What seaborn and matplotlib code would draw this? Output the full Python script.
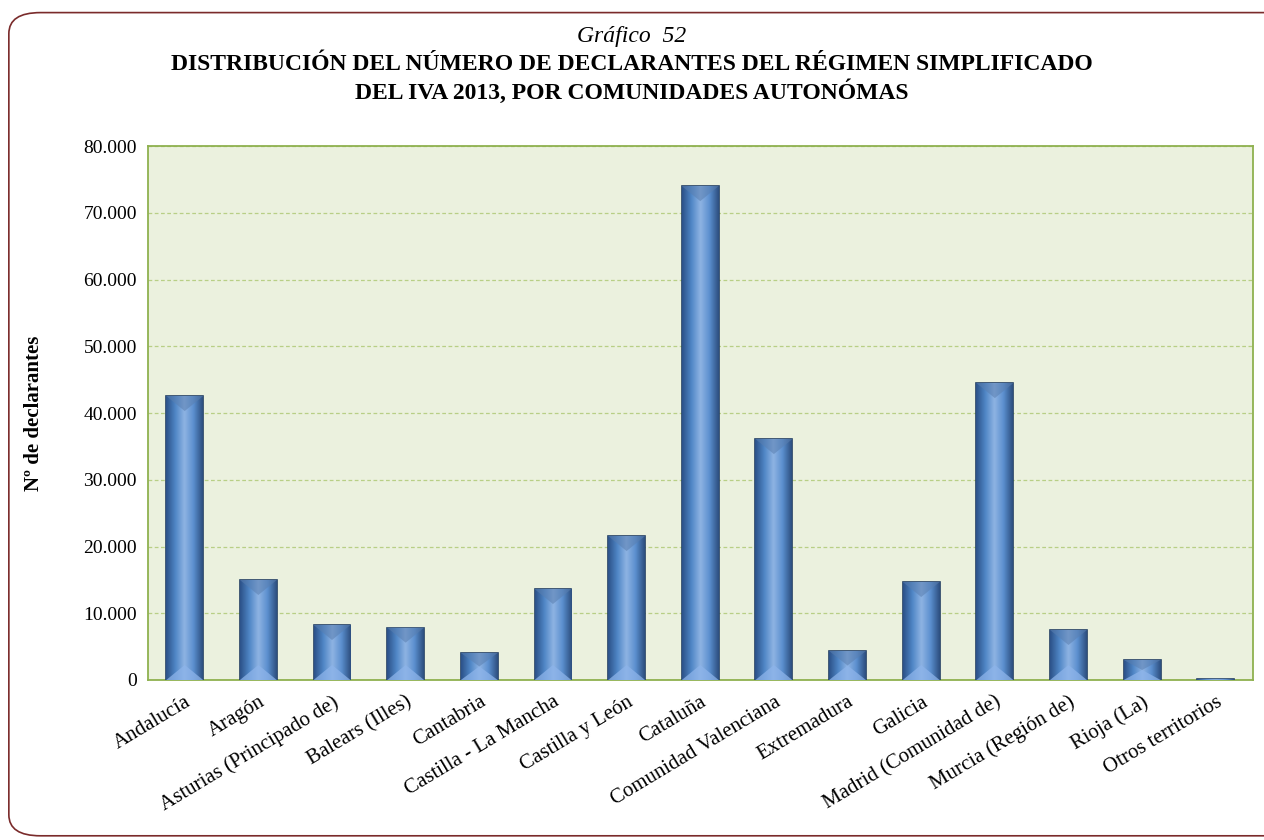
import numpy as np
import pandas as pd
import matplotlib
matplotlib.use("Agg")
import matplotlib.pyplot as plt
from matplotlib.patches import FancyBboxPatch, Polygon
from matplotlib.colors import LinearSegmentedColormap
from matplotlib.ticker import FuncFormatter, FixedLocator
import seaborn as sns

# Data
comunidades = ['Andalucía', 'Aragón', 'Asturias (Principado de)', 'Balears (Illes)',
               'Cantabria', 'Castilla - La Mancha', 'Castilla y León', 'Cataluña',
               'Comunidad Valenciana', 'Extremadura', 'Galicia',
               'Madrid (Comunidad de)', 'Murcia (Región de)', 'Rioja (La)',
               'Otros territorios']
declarantes = [42550, 14980, 8240, 7840, 4050, 13630, 21570, 74010,
               36100, 4340, 14680, 44490, 7490, 3000, 200]
y_ticks = [0, 10000, 20000, 30000, 40000, 50000, 60000, 70000, 80000]

df = pd.DataFrame({'comunidad': comunidades, 'declarantes': declarantes})

sns.set_style('white')
plt.rcParams['font.family'] = ['Liberation Serif', 'DejaVu Serif']
plt.rcParams['text.color'] = 'black'
plt.rcParams['axes.labelcolor'] = 'black'

fig = plt.figure(figsize=(12.64, 8.4), dpi=100)
fig.patch.set_facecolor('white')

# rounded frame round the whole chart
frame = FancyBboxPatch((0.007, 0.005), 1.05, 0.98, boxstyle='round,pad=0,rounding_size=0.025',
                       transform=fig.transFigure, facecolor='none',
                       edgecolor='#7a2b2b', linewidth=1.2)
fig.patches.append(frame)

ax = fig.add_axes([0.117, 0.1905, 0.874, 0.6355])
ax.set_facecolor('#ebf1de')

sns.barplot(data=df, x='comunidad', y='declarantes', color='#4a7ebb',
            width=0.5, edgecolor='#233f63', linewidth=1.2, ax=ax, zorder=3)

ax.set_xlim(-0.5, len(comunidades) - 0.5)
ax.set_ylim(0, 80000)

# gradient + bevel inside each bar
cmap = LinearSegmentedColormap.from_list('bar', ['#2c5289', '#4f86c6', '#8fb4e3', '#5b8fcf', '#2d4f80'])
grad = np.linspace(0, 1, 64).reshape(1, -1)
bevel = 80000 * 15 / 534  # ~15 px in data units
for p in list(ax.patches):
    x0, y0 = p.get_x(), p.get_y()
    w, h = p.get_width(), p.get_height()
    im = ax.imshow(grad, cmap=cmap, aspect='auto', extent=(x0, x0 + w, y0, y0 + h),
                   zorder=3.5, interpolation='bicubic')
    im.set_clip_path(p)
    t = min(bevel, h / 2)
    xc = x0 + w / 2
    bot = Polygon([(x0, y0), (x0 + w, y0), (xc, y0 + t)], closed=True,
                  facecolor='#8db4ea', alpha=0.75, edgecolor='none', zorder=3.6)
    top = Polygon([(x0, y0 + h), (x0 + w, y0 + h), (xc, y0 + h - t)], closed=True,
                  facecolor='#5a7fb0', alpha=0.55, edgecolor='none', zorder=3.6)
    ax.add_patch(bot)
    ax.add_patch(top)

ax.yaxis.set_major_locator(FixedLocator(y_ticks))
ax.yaxis.set_major_formatter(FuncFormatter(lambda v, pos: f'{int(v):,}'.replace(',', '.')))
ax.grid(axis='y', color='#b8cf86', linestyle=(0, (3, 2)), linewidth=0.9, zorder=0)

for s in ax.spines.values():
    s.set_color('#8fb14f')
    s.set_linewidth(1.3)

ax.set_xticks(np.arange(len(comunidades)))
ax.set_xticklabels(comunidades, rotation=31, ha='right', rotation_mode='anchor', fontsize=15)
ax.tick_params(axis='x', length=0, pad=9, labelcolor='black')
ax.set_xticks(np.arange(len(comunidades) + 1) - 0.5, minor=True)
ax.tick_params(axis='x', which='minor', length=6, color='#8fb14f', width=1.2, direction='out')
ax.tick_params(axis='y', length=6, color='#8fb14f', width=1.2, direction='out',
               labelsize=14, pad=2, labelcolor='black')

ax.set_xlabel('')
ax.set_ylabel('Nº de declarantes', fontsize=15, fontweight='bold', labelpad=28)

fig.text(0.5, 0.956, 'Gráfico  52', ha='center', va='center', fontsize=17, style='italic')
fig.text(0.5, 0.923, 'DISTRIBUCIÓN DEL NÚMERO DE DECLARANTES DEL RÉGIMEN SIMPLIFICADO',
         ha='center', va='center', fontsize=17, fontweight='bold')
fig.text(0.5, 0.891, 'DEL IVA 2013, POR COMUNIDADES AUTONÓMAS',
         ha='center', va='center', fontsize=17, fontweight='bold')

fig.savefig('out.png', dpi=100)
